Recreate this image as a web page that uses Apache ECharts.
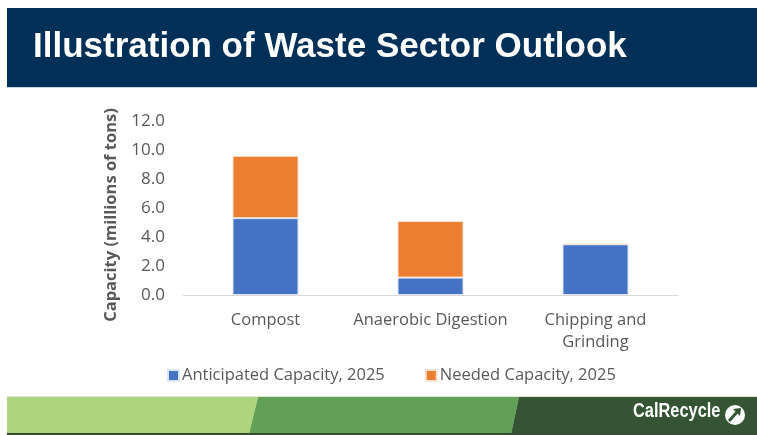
<!DOCTYPE html>
<html lang="en">
<head>
    <meta charset="UTF-8">
    <script src="https://cdn.jsdelivr.net/npm/echarts@6.0.0/dist/echarts.min.js"></script>
    <style>
        html, body { margin: 0; padding: 0; background: #fff; }
    </style>
</head>
<body>
<div id="outlookChart" style="width: 757px;height:435px;"></div>
<script type="text/javascript">

    var categories = ["Compost", "Anaerobic Digestion", "Chipping and\nGrinding"];
    var anticipatedCapacity = [5.3, 1.2, 3.5];
    var neededCapacity = [4.3, 3.9, 0];
    var seriesNames = ["Anticipated Capacity, 2025", "Needed Capacity, 2025"];

    var textFont = "'Open Sans', 'Noto Sans', sans-serif";
    var chart = echarts.init(document.getElementById("outlookChart"));

    var option = {
        animation: false,
        backgroundColor: "#ffffff",
        grid: { left: 183, right: 79, top: 121, bottom: 140 },
        legend: {
            left: 162,
            top: 362,
            itemWidth: 11,
            itemHeight: 11,
            itemGap: 40,
            icon: "rect",
            textStyle: { fontFamily: textFont, fontSize: 16.5, color: "#595959", padding: [0, 0, 0, -2] },
            data: seriesNames
        },
        xAxis: {
            type: "category",
            data: categories,
            axisLine: { lineStyle: { color: "#d9d9d9", width: 1 } },
            axisTick: { show: false },
            axisLabel: {
                margin: 14,
                fontFamily: textFont,
                fontSize: 16.5,
                color: "#595959",
                lineHeight: 22,
                interval: 0
            }
        },
        yAxis: {
            type: "value",
            min: 0,
            max: 12,
            interval: 2,
            name: "Capacity (millions of tons)",
            nameLocation: "middle",
            nameGap: 63,
            nameTextStyle: {
                fontFamily: textFont, fontSize: 16.5, fontWeight: "bold", color: "#595959",
                padding: [0, 0, 0, -14]
            },
            axisLine: { show: false },
            axisTick: { show: false },
            splitLine: { show: false },
            axisLabel: {
                margin: 18,
                fontFamily: textFont,
                fontSize: 17,
                color: "#595959",
                formatter: function (v) { return v.toFixed(1); }
            }
        },
        series: [
            {
                name: seriesNames[0],
                type: "bar",
                stack: "cap",
                barWidth: "40%",
                data: anticipatedCapacity,
                itemStyle: { color: "#4472c4", borderColor: "#dce6f5", borderWidth: 1 }
            },
            {
                name: seriesNames[1],
                type: "bar",
                stack: "cap",
                barWidth: "40%",
                data: neededCapacity,
                itemStyle: { color: "#ed7d31", borderColor: "#fbe3d3", borderWidth: 1 }
            }
        ],
        graphic: [
            { type: "rect", shape: { x: 7, y: 8, width: 750, height: 80 }, style: { fill: "#003057" }, silent: true },
            { type: "rect", shape: { x: 7, y: 87, width: 750, height: 1 }, style: { fill: "#c9d3de" }, silent: true },
            {
                type: "text", left: 33, top: 30,
                style: {
                    text: "Illustration of Waste Sector Outlook",
                    fill: "#ffffff",
                    font: "bold 35px 'Liberation Sans', Arial, sans-serif"
                }
            },
            { type: "rect", shape: { x: 7, y: 396, width: 750, height: 1 }, style: { fill: "#dfe8d6" }, silent: true },
            {
                type: "polygon",
                shape: { points: [[7, 397], [258, 397], [249, 434], [7, 434]] },
                style: { fill: "#aed57e" }, silent: true
            },
            {
                type: "polygon",
                shape: { points: [[258, 397], [519, 397], [511, 434], [249, 434]] },
                style: { fill: "#62a055" }, silent: true
            },
            {
                type: "polygon",
                shape: { points: [[519, 397], [757, 397], [757, 434], [511, 434]] },
                style: { fill: "#345433" }, silent: true
            },
            { type: "rect", shape: { x: 7, y: 433, width: 750, height: 2 }, style: { fill: "#3b4a33" }, silent: true },
            {
                type: "text", left: 633, top: 401,
                style: {
                    text: "CalRecycle",
                    fill: "#ffffff",
                    font: "bold 21px 'Liberation Sans Narrow', 'Liberation Sans', Arial, sans-serif"
                },
                scaleX: 0.78
            },
            { type: "circle", shape: { cx: 735, cy: 415, r: 10 }, style: { fill: "#ffffff" }, silent: true },
            {
                type: "polyline",
                shape: { points: [[729, 421], [738, 411]] },
                style: { stroke: "#345433", lineWidth: 3 }, silent: true
            },
            {
                type: "polygon",
                shape: { points: [[733, 409], [741, 408], [740, 416]] },
                style: { fill: "#345433" }, silent: true
            }
        ]
    };
    chart.setOption(option);
</script>
</body>
</html>
